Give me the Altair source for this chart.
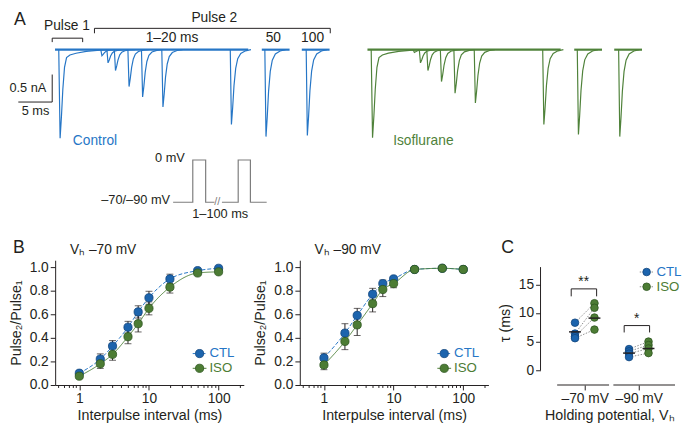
import altair as alt
import pandas as pd

FONT = "Liberation Sans"
INK = "#231f20"
BLUE = "#1c64ad"
BLUE_EDGE = "#0f437c"
GREEN = "#4c7c34"
GREEN_EDGE = "#2d551f"
BLUE_TRACE = "#2676c6"
GREEN_TRACE = "#4f823a"
GRAY = "#8c8c8c"
PROT = "#7d7d7d"

# ======================= DATA =======================
# ---- Panel A: representative currents ----
# display time of each Pulse-2 current after Pulse 1 (ms, broken axis for 50/100)
pulse2_labels = ["1", "2", "3", "5", "7", "10", "20", "50", "100"]
pulse2_times = [6.2, 7.1, 8.2, 10.2, 12.2, 15.2, 25.3, 30.4, 36.5]
ctl_pulse2_amp = [0.11, 0.24, 0.38, 0.67, 0.86, 1.04, 1.36, 1.58, 1.56]   # nA
iso_pulse2_amp = [0.05, 0.24, 0.38, 0.58, 0.79, 0.97, 1.36, 1.54, 1.58]   # nA
ctl_pulse1_amp = 1.61
iso_pulse1_amp = 1.60
sweep_seg_start = [-0.6, 29.9, 35.8]
sweep_seg_end = [27.9, 34.0, 39.9]
# current waveform (ms after onset, fraction of peak)
pulse1_shape_t = [-0.05, 0.15, 0.35, 0.55, 0.8, 1.1, 1.6, 2.5, 4.0, 6.0, 8.0]
pulse1_shape_f = [0.0, 1.0, 0.75, 0.45, 0.2, 0.09, 0.06, 0.04, 0.02, 0.005, 0.0]
pulse2_shape_t = [-0.05, 0.12, 0.3, 0.5, 0.75, 1.05, 1.5, 2.2, 3.0]
pulse2_shape_f = [0.0, 1.0, 0.78, 0.48, 0.25, 0.12, 0.05, 0.015, 0.0]
# voltage protocol (display ms, mV)
protocol_t = [17.4, 20.3, 20.3, 22.2, 22.2, 23.5, 24.6, 27.0, 27.0, 28.8, 28.8, 31.2]
protocol_mv = [-80, -80, 0, 0, -80, -80, -80, -80, 0, 0, -80, -80]
protocol_piece = [0, 0, 0, 0, 0, 0, 1, 1, 1, 1, 1, 1]

# ---- Panel B: paired-pulse recovery ----
intervals_ms = [1, 2, 3, 5, 7, 10, 20, 50, 100]
b70_ctl = [0.10, 0.22, 0.33, 0.49, 0.62, 0.74, 0.90, 0.97, 0.99]
b70_ctl_sem = [0.02, 0.044, 0.047, 0.05, 0.052, 0.055, 0.04, 0.01, 0.01]
b70_iso = [0.075, 0.18, 0.26, 0.41, 0.52, 0.65, 0.83, 0.95, 0.96]
b70_iso_sem = [0.02, 0.039, 0.05, 0.06, 0.07, 0.055, 0.05, 0.015, 0.01]
b90_ctl = [0.23, 0.44, 0.59, 0.77, 0.86, 0.90, 0.98, 0.99, 0.98]
b90_ctl_sem = [0.04, 0.08, 0.06, 0.05, 0.03, 0.015, 0.01, 0.01, 0.01]
b90_iso = [0.17, 0.37, 0.51, 0.69, 0.81, 0.86, 0.98, 0.99, 0.98]
b90_iso_sem = [0.04, 0.07, 0.09, 0.07, 0.06, 0.035, 0.01, 0.01, 0.01]

# ---- Panel C: recovery time constants ----
c_groups = ["–70 mV", "–90 mV"]
c70_ctl = [8.3, 6.4, 5.9, 5.6]
c70_iso = [11.7, 10.9, 9.2, 7.1]
c90_ctl = [3.7, 3.3, 2.9, 2.3]
c90_iso = [5.0, 4.4, 3.8, 3.0]
c_ctl_mean = [6.7, 3.0]
c_iso_mean = [9.1, 3.8]
c_sig = ["**", "*"]

# ======================= HELPERS =======================
ONE = pd.DataFrame({"k": [0]})
LEFT_EXT, TOP_EXT = 47, 21   # room left of / above each plot (axis titles, panel letters)


def txt(s, x, y, size=14, color=INK, align="center", baseline="middle", opacity=1):
    return alt.Chart(ONE).mark_text(
        text=s, fontSize=size, color=color, align=align, baseline=baseline, font=FONT,
        opacity=opacity
    ).encode(x=alt.value(x), y=alt.value(y))


def seg(x1, y1, x2, y2, color=INK, width=1.0, dash=None, opacity=1):
    kw = {} if dash is None else {"strokeDash": dash}
    return alt.Chart(ONE).mark_rule(color=color, strokeWidth=width, opacity=opacity, **kw).encode(
        x=alt.value(x1), y=alt.value(y1), x2=alt.value(x2), y2=alt.value(y2)
    )


def dot(x, y, fill, stroke, size=64):
    return alt.Chart(ONE).mark_circle(
        size=size, color=fill, stroke=stroke, strokeWidth=0.8, opacity=1
    ).encode(x=alt.value(x), y=alt.value(y))


# ======================= PANEL A =======================
PX_PER_MS = 6.9
PX_PER_NA = 56.0
TW, TH = 620, 203
BASE_PX = 17.7
CTL_X0 = 4 / PX_PER_MS
ISO_X0 = 322 / PX_PER_MS
PROT_HI, PROT_LO = 130, 173   # pixel rows of 0 mV and holding level

base_rows, spk_rows = [], []
for cond, x0, p1, amps in (("CTL", CTL_X0, ctl_pulse1_amp, ctl_pulse2_amp),
                           ("ISO", ISO_X0, iso_pulse1_amp, iso_pulse2_amp)):
    for k, (s, e) in enumerate(zip(sweep_seg_start, sweep_seg_end)):
        base_rows.append(dict(cond=cond, grp=f"{cond}b{k}", i=0, t=x0 + s, v=0.0))
        base_rows.append(dict(cond=cond, grp=f"{cond}b{k}", i=1, t=x0 + e, v=0.0))
    for j, (dt, f) in enumerate(zip(pulse1_shape_t, pulse1_shape_f)):
        spk_rows.append(dict(cond=cond, grp=f"{cond}p1", i=j, t=x0 + dt, v=-p1 * f))
    for n, (ts, a) in enumerate(zip(pulse2_times, amps)):
        for j, (dt, f) in enumerate(zip(pulse2_shape_t, pulse2_shape_f)):
            spk_rows.append(dict(cond=cond, grp=f"{cond}s{n}", i=j, t=x0 + ts + dt, v=-a * f))
df_base = pd.DataFrame(base_rows)
df_spk = pd.DataFrame(spk_rows)

xA = alt.X("t:Q", scale=alt.Scale(domain=[0, TW / PX_PER_MS], nice=False, zero=False), axis=None)
yA_scale = alt.Scale(domain=[-(TH - BASE_PX) / PX_PER_NA, BASE_PX / PX_PER_NA], nice=False, zero=False)
yA = alt.Y("v:Q", scale=yA_scale, axis=None)
colA = alt.Color("cond:N", scale=alt.Scale(domain=["CTL", "ISO"], range=[BLUE_TRACE, GREEN_TRACE]), legend=None)

base_layer = alt.Chart(df_base).mark_line(strokeWidth=2.2).encode(xA, yA, colA, detail="grp:N", order="i:Q")
spk_layer = alt.Chart(df_spk).mark_line(strokeWidth=1.2).encode(xA, yA, colA, detail="grp:N", order="i:Q")

SB_X = -3 / PX_PER_MS
SB_Y = (BASE_PX - 71) / PX_PER_NA
df_sb = pd.DataFrame({"t": [SB_X - 5, SB_X], "t2": [SB_X, SB_X], "v": [SB_Y, SB_Y], "v2": [SB_Y, SB_Y + 0.5]})
sb_layer = alt.Chart(df_sb).mark_rule(color=INK, strokeWidth=1).encode(
    x=xA, x2="t2:Q", y=yA, y2="v2:Q")

df_prot = pd.DataFrame({"t": protocol_t, "mv": protocol_mv, "piece": protocol_piece,
                        "i": list(range(len(protocol_t)))})
mv_per_px = 80 / (PROT_LO - PROT_HI)
prot_layer = alt.Chart(df_prot).mark_line(color=PROT, strokeWidth=1.2).encode(
    x=xA,
    y=alt.Y("mv:Q", scale=alt.Scale(domain=[-(TH - PROT_HI) * mv_per_px, PROT_HI * mv_per_px],
                                    nice=False, zero=False), axis=None),
    detail="piece:N", order="i:Q")

panel_a = alt.layer(
    base_layer, spk_layer, sb_layer, prot_layer,
    seg(-LEFT_EXT, -TOP_EXT, -LEFT_EXT + 1, -TOP_EXT, opacity=0),
    txt("A", -42, -12, size=18, align="left"),
    txt("Pulse 1", 12, -6),
    seg(-3, 6, 28, 6), seg(-3, 6, -3, 10), seg(28, 6, 28, 10),
    txt("Pulse 2", 162, -14),
    seg(40, -4, 280, -4), seg(40, -4, 40, 1), seg(280, -4, 280, 1),
    txt("1–20 ms", 119, 6), txt("50", 222, 6), txt("100", 262, 6),
    txt("0.5 nA", -9, 57, size=13, align="right"),
    txt("5 ms", -20, 80, size=13),
    txt("Control", 18, 111, color=BLUE_TRACE, align="left"),
    txt("Isoflurane", 344, 111, color=GREEN_TRACE, align="left"),
    txt("0 mV", 132, PROT_HI - 2, size=13, align="right"),
    txt("–70/–90 mV", 117, PROT_LO - 2, size=13, align="right"),
    txt("//", 165, PROT_LO, size=11, color=PROT),
    txt("1–100 ms", 168, PROT_LO + 12, size=13),
).resolve_scale(y="independent").properties(width=TW, height=TH)

# ======================= PANEL B =======================
B_W, B_H = 192, 127
B_TICKS = [0.5, 0.6, 0.7, 0.8, 0.9, 1, 2, 3, 4, 5, 6, 7, 8, 9, 10,
           20, 30, 40, 50, 60, 70, 80, 90, 100, 200]
MAJOR = "datum.value == 1 || datum.value == 10 || datum.value == 100"
axis_xb = alt.Axis(values=B_TICKS, labelExpr=f"({MAJOR}) ? datum.label : ''", format="~g",
                   tickSize={"condition": {"test": MAJOR, "value": 5}, "value": 2.5},
                   title="Interpulse interval (ms)", labelFlush=False, labelOverlap=False,
                   titlePadding=3)
xb_scale = alt.Scale(type="log", domain=[0.45, 230], nice=False)
yb_scale = alt.Scale(domain=[0, 1 + 7 / (B_H - 7)], nice=False, zero=False)
axis_yb = alt.Axis(values=[0, 0.2, 0.4, 0.6, 0.8, 1.0], format=".1f", title="Pulse₂/Pulse₁",
                   titlePadding=6)


def b_panel(ctl, ctl_sem, iso, iso_sem, vh, letter):
    rows = []
    for cond, m, s in (("CTL", ctl, ctl_sem), ("ISO", iso, iso_sem)):
        for t, mm, ss in zip(intervals_ms, m, s):
            rows.append(dict(cond=cond, interval=t, mean=mm, lo=mm - ss, hi=mm + ss))
    df = pd.DataFrame(rows)
    x = alt.X("interval:Q", scale=xb_scale, axis=axis_xb)
    y = alt.Y("mean:Q", scale=yb_scale, axis=axis_yb)
    ylo = alt.Y("lo:Q", scale=yb_scale, axis=axis_yb)
    yhi = alt.Y("hi:Q", scale=yb_scale, axis=axis_yb)
    fits = alt.Chart(df).mark_line(interpolate="monotone", strokeWidth=1).encode(
        x, y,
        color=alt.Color("cond:N", scale=alt.Scale(domain=["CTL", "ISO"], range=[BLUE_TRACE, GREEN]), legend=None),
        strokeDash=alt.StrokeDash("cond:N", scale=alt.Scale(domain=["CTL", "ISO"], range=[[4, 2], [1, 0]]), legend=None),
    )
    bars = alt.Chart(df).mark_rule(color=INK, strokeWidth=1).encode(x, ylo, y2="hi:Q")
    cap_hi = alt.Chart(df).mark_tick(orient="horizontal", size=7, thickness=1, color=INK).encode(x, yhi)
    cap_lo = alt.Chart(df).mark_tick(orient="horizontal", size=7, thickness=1, color=INK).encode(x, ylo)
    pts_c = alt.Chart(df[df.cond == "CTL"]).mark_circle(size=70, color=BLUE, stroke=BLUE_EDGE, strokeWidth=0.8, opacity=1).encode(x, y)
    pts_i = alt.Chart(df[df.cond == "ISO"]).mark_circle(size=70, color=GREEN, stroke=GREEN_EDGE, strokeWidth=0.8, opacity=1).encode(x, y)
    ly = B_H - 32
    layers = [fits, bars, cap_hi, cap_lo, pts_c, pts_i,
              seg(140, ly, 154, ly, color=BLUE_TRACE, dash=[3, 2]), dot(147, ly, BLUE, BLUE_EDGE, size=70),
              seg(140, ly + 15, 154, ly + 15, color=GREEN), dot(147, ly + 15, GREEN, GREEN_EDGE, size=70),
              txt("CTL", 157, ly, size=13.5, color=BLUE_TRACE, align="left"),
              txt("ISO", 157, ly + 15, size=13.5, color=GREEN, align="left"),
              txt(vh, 15, -10, align="left"),
              seg(-LEFT_EXT, -TOP_EXT, -LEFT_EXT + 1, -TOP_EXT, opacity=0)]
    if letter:
        layers.append(txt(letter, -43, -12, size=18, align="left"))
    return alt.layer(*layers).properties(width=B_W, height=B_H)


b70 = b_panel(b70_ctl, b70_ctl_sem, b70_iso, b70_iso_sem, "Vₕ –70 mV", "B")
b90 = b_panel(b90_ctl, b90_ctl_sem, b90_iso, b90_iso_sem, "Vₕ –90 mV", None)

# ======================= PANEL C =======================
C_W, C_H = 140, 127
C_PXU = (C_H - 22) / 18.0
DODGE = 0.18
c_rows = []
for gi, (ctl, iso) in enumerate(((c70_ctl, c70_iso), (c90_ctl, c90_iso))):
    for k, (a, b) in enumerate(zip(ctl, iso)):
        c_rows.append(dict(grp=gi, cond="CTL", pair=f"{gi}-{k}", x=gi - DODGE, tau=a, i=0))
        c_rows.append(dict(grp=gi, cond="ISO", pair=f"{gi}-{k}", x=gi + DODGE, tau=b, i=1))
df_c = pd.DataFrame(c_rows)
mean_rows = []
for gi in range(2):
    mean_rows.append(dict(x1=gi - DODGE - 0.11, x2=gi - DODGE + 0.11, tau=c_ctl_mean[gi]))
    mean_rows.append(dict(x1=gi + DODGE - 0.11, x2=gi + DODGE + 0.11, tau=c_iso_mean[gi]))
df_mean = pd.DataFrame(mean_rows)
df_br = pd.DataFrame({
    "x1": [-0.25, -0.25, 0.22, 0.73, 0.73, 1.2],
    "x2": [0.22, -0.25, 0.22, 1.2, 0.73, 1.2],
    "y1": [14.2, 14.2, 14.2, 7.8, 7.8, 7.8],
    "y2": [14.2, 12.9, 12.9, 7.8, 6.6, 6.6],
})
df_sig = pd.DataFrame({"x": [-0.02, 0.96], "tau": [15.4, 9.0], "s": c_sig})

xc_scale = alt.Scale(domain=[-0.818, 1.727], nice=False, zero=False)
yc_scale = alt.Scale(domain=[-15 / C_PXU, 18 + 7 / C_PXU], nice=False, zero=False)
axis_xc = alt.Axis(values=[0, 1], labelExpr=f"datum.value == 0 ? '{c_groups[0]}' : '{c_groups[1]}'",
                   domain=False, title="Holding potential, Vₕ", titlePadding=3, labelFlush=False)
axis_yc = alt.Axis(values=[0, 5, 10, 15], domain=False, title="τ (ms)", titlePadding=6)
xc = alt.X("x:Q", scale=xc_scale, axis=axis_xc)
yc = alt.Y("tau:Q", scale=yc_scale, axis=axis_yc)

c_pairs = alt.Chart(df_c).mark_line(color=GRAY, strokeWidth=1, strokeDash=[1.5, 1.5]).encode(
    xc, yc, detail="pair:N", order="i:Q")
c_pts_c = alt.Chart(df_c[df_c.cond == "CTL"]).mark_circle(size=60, color=BLUE, stroke=BLUE_EDGE, strokeWidth=0.8, opacity=1).encode(xc, yc)
c_pts_i = alt.Chart(df_c[df_c.cond == "ISO"]).mark_circle(size=60, color=GREEN, stroke=GREEN_EDGE, strokeWidth=0.8, opacity=1).encode(xc, yc)
c_means = alt.Chart(df_mean).mark_rule(color=INK, strokeWidth=1.5).encode(
    x=alt.X("x1:Q", scale=xc_scale, axis=axis_xc), x2="x2:Q", y=yc)
c_br = alt.Chart(df_br).mark_rule(color=INK, strokeWidth=1).encode(
    x=alt.X("x1:Q", scale=xc_scale, axis=axis_xc), x2="x2:Q",
    y=alt.Y("y1:Q", scale=yc_scale, axis=axis_yc), y2="y2:Q")
c_sigt = alt.Chart(df_sig).mark_text(fontSize=14, color=INK, font=FONT, baseline="middle").encode(
    xc, yc, text="s:N")
c_yline = alt.Chart(ONE).mark_rule(color=INK, strokeWidth=1).encode(
    x=alt.value(0), y=alt.datum(0, scale=yc_scale), y2=alt.datum(18))
c_xl1 = alt.Chart(ONE).mark_rule(color=INK, strokeWidth=1).encode(
    x=alt.datum(-0.51, scale=xc_scale), x2=alt.datum(0.45), y=alt.value(C_H))
c_xl2 = alt.Chart(ONE).mark_rule(color=INK, strokeWidth=1).encode(
    x=alt.datum(0.53, scale=xc_scale), x2=alt.datum(1.67), y=alt.value(C_H))

panel_c = alt.layer(
    c_pairs, c_pts_c, c_pts_i, c_means, c_br, c_sigt, c_yline, c_xl1, c_xl2,
    seg(101, 12, 116, 12, color=GRAY, dash=[1.5, 1.5]), dot(108, 12, BLUE, BLUE_EDGE, size=60),
    seg(101, 27, 116, 27, color=GRAY, dash=[1.5, 1.5]), dot(108, 27, GREEN, GREEN_EDGE, size=60),
    txt("CTL", 118, 12, size=13.5, color=BLUE_TRACE, align="left"),
    txt("ISO", 118, 27, size=13.5, color=GREEN, align="left"),
    txt("C", -40, -12, size=18, align="left"),
).properties(width=C_W, height=C_H)

bottom = alt.hconcat(b70, b90, panel_c, spacing=9)

chart = alt.vconcat(panel_a, bottom, spacing=8).properties(padding=0).configure_view(
    stroke=None
).configure_axis(
    labelFont=FONT, titleFont=FONT, labelFontSize=14, titleFontSize=14.5,
    labelColor=INK, titleColor=INK, titleFontWeight="normal",
    domainColor=INK, tickColor=INK, tickWidth=1, domainWidth=1, tickSize=5,
    grid=False, labelPadding=2,
)

chart.save("out.html", embed_options={"renderer": "svg", "actions": False})
